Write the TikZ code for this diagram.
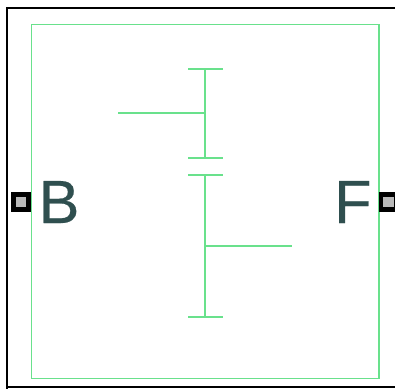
\documentclass[tikz,border=0pt]{standalone}
\usepackage{fontspec}
\setmainfont{Liberation Sans}
\newfontfamily\lblfont[FakeBold=0.4]{Liberation Sans}
\definecolor{sym}{RGB}{105,225,140}
\definecolor{lbl}{RGB}{47,79,79}
\definecolor{portfill}{RGB}{185,185,185}
\tikzset{
  symline/.style={draw=sym,line width=1.4pt},
  portbox/.style={draw=black,fill=portfill,line width=4.5pt,minimum size=15pt,inner sep=0pt,outer sep=0pt},
  portlabel/.style={text=lbl,font=\lblfont\fontsize{61}{61}\selectfont,inner sep=0pt,anchor=base west}
}
\begin{document}
\begin{tikzpicture}[x=1pt,y=-1pt]
\useasboundingbox (0,0) rectangle (395,388);
\fill[white] (0,0) rectangle (395,388);
\draw[black,line width=2pt] (6.5,400) -- (6.5,7.5) -- (400,7.5);
\draw[black,line width=2pt] (6.5,387) -- (400,387);
\draw[symline] (31.5,24.5) rectangle (379,378.5);
\node[portbox] (portB) at (21,202) {};
\node[portbox] (portF) at (388.5,202) {};
\node[portlabel] (labB) at (38.5,223) {B};
\node[portlabel] (labF) at (334,223) {F};
% upper contact
\coordinate (t1) at (205,69);
\coordinate (t2) at (205,158);
\coordinate (j1) at (205,113);
\coordinate (in) at (118,113);
\draw[symline] (t1) -- (t2);
\draw[symline] (in) -- (j1);
\draw[symline] (188,69) -- (222.5,69);
\draw[symline] (188,158) -- (222.5,158);
% lower contact
\coordinate (b1) at (205,175);
\coordinate (b2) at (205,317);
\coordinate (j2) at (205,246);
\coordinate (out) at (292,246);
\draw[symline] (b1) -- (b2);
\draw[symline] (j2) -- (out);
\draw[symline] (188,175) -- (222.5,175);
\draw[symline] (188,317) -- (222.5,317);
\end{tikzpicture}
\end{document}
